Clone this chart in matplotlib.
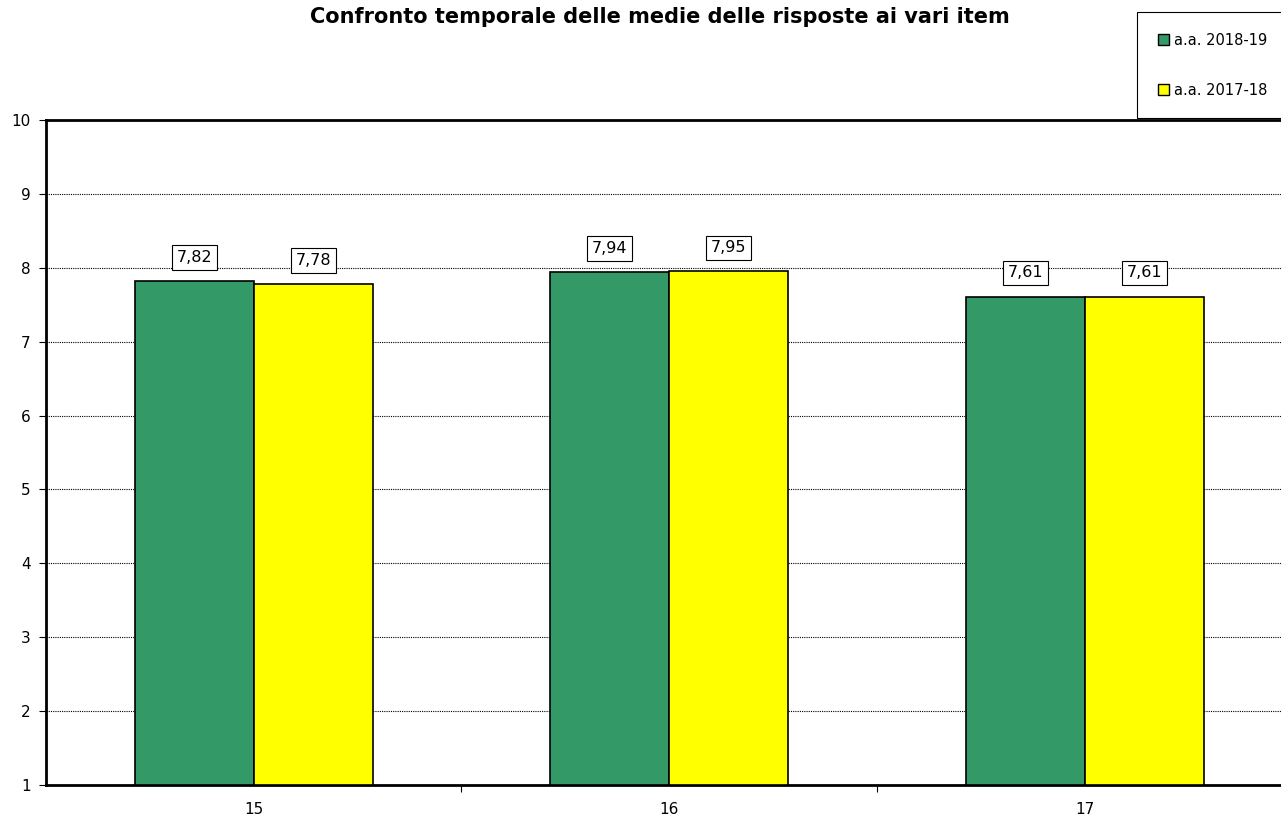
import matplotlib
matplotlib.use("Agg")
import matplotlib.pyplot as plt
import numpy as np
from matplotlib.patches import Patch

# data
items = ["15", "16", "17"]
serie_2018 = [7.82, 7.94, 7.61]
serie_2017 = [7.78, 7.95, 7.61]
nomi = ["a.a. 2018-19", "a.a. 2017-18"]
colori = ["#339966", "#FFFF00"]

plt.rcParams["font.family"] = ["DejaVu Sans"]

fig = plt.figure(figsize=(12.81, 8.16), dpi=100)
ax = fig.add_axes([46 / 1281, 31 / 816, 1246.5 / 1281, 665 / 816])

x = np.arange(len(items))
w = 0.286
b1 = ax.bar(x - w / 2, np.array(serie_2018) - 1, w, bottom=1, color=colori[0],
            edgecolor="black", linewidth=1.2, zorder=3)
b2 = ax.bar(x + w / 2, np.array(serie_2017) - 1, w, bottom=1, color=colori[1],
            edgecolor="black", linewidth=1.2, zorder=3)

# value labels in boxes, with comma decimals
for xs, vals in [(x - w / 2, serie_2018), (x + w / 2, serie_2017)]:
    for xi, v in zip(xs, vals):
        ax.annotate(f"{v:.2f}".replace(".", ","), (xi, v), xytext=(0, 17),
                    textcoords="offset points", ha="center", va="center",
                    fontsize=11.5, zorder=5,
                    bbox=dict(boxstyle="square,pad=0.3", fc="white", ec="black", lw=0.8))

ax.set_xlim(-0.5, len(items) - 0.5)
ax.set_ylim(1, 10)
ax.set_yticks(range(1, 11))
ax.set_xticks(x)
ax.set_xticklabels(items)
ax.set_xticks(np.arange(0.5, len(items) - 0.5, 1), minor=True)
ax.tick_params(axis="x", which="major", length=0, pad=12, labelsize=11)
ax.tick_params(axis="x", which="minor", length=5, width=0.8, direction="out")
ax.tick_params(axis="y", length=5, width=0.8, direction="out", labelsize=11, pad=6)
ax.grid(axis="y", linestyle=(0, (1, 1)), color="black", linewidth=0.8, zorder=0)

for s in ["left", "top", "bottom"]:
    ax.spines[s].set_linewidth(2)
ax.spines["right"].set_visible(False)

fig.text(660 / 1281, 1 - 17 / 816, "Confronto temporale delle medie delle risposte ai vari item",
         ha="center", va="center", fontsize=15, fontweight="bold")

handles = [Patch(facecolor=c, edgecolor="black", label=n) for c, n in zip(colori, nomi)]
leg = fig.legend(handles=handles, loc="upper left", bbox_to_anchor=(1130 / 1281, 1 - 5 / 816),
                 fontsize=10.5, handlelength=0.8, handleheight=0.8, handletextpad=0.3,
                 labelspacing=2.4, borderpad=1.4, fancybox=False, framealpha=1,
                 edgecolor="black")
leg.get_frame().set_linewidth(0.8)

fig.savefig("out.png", dpi=100)
